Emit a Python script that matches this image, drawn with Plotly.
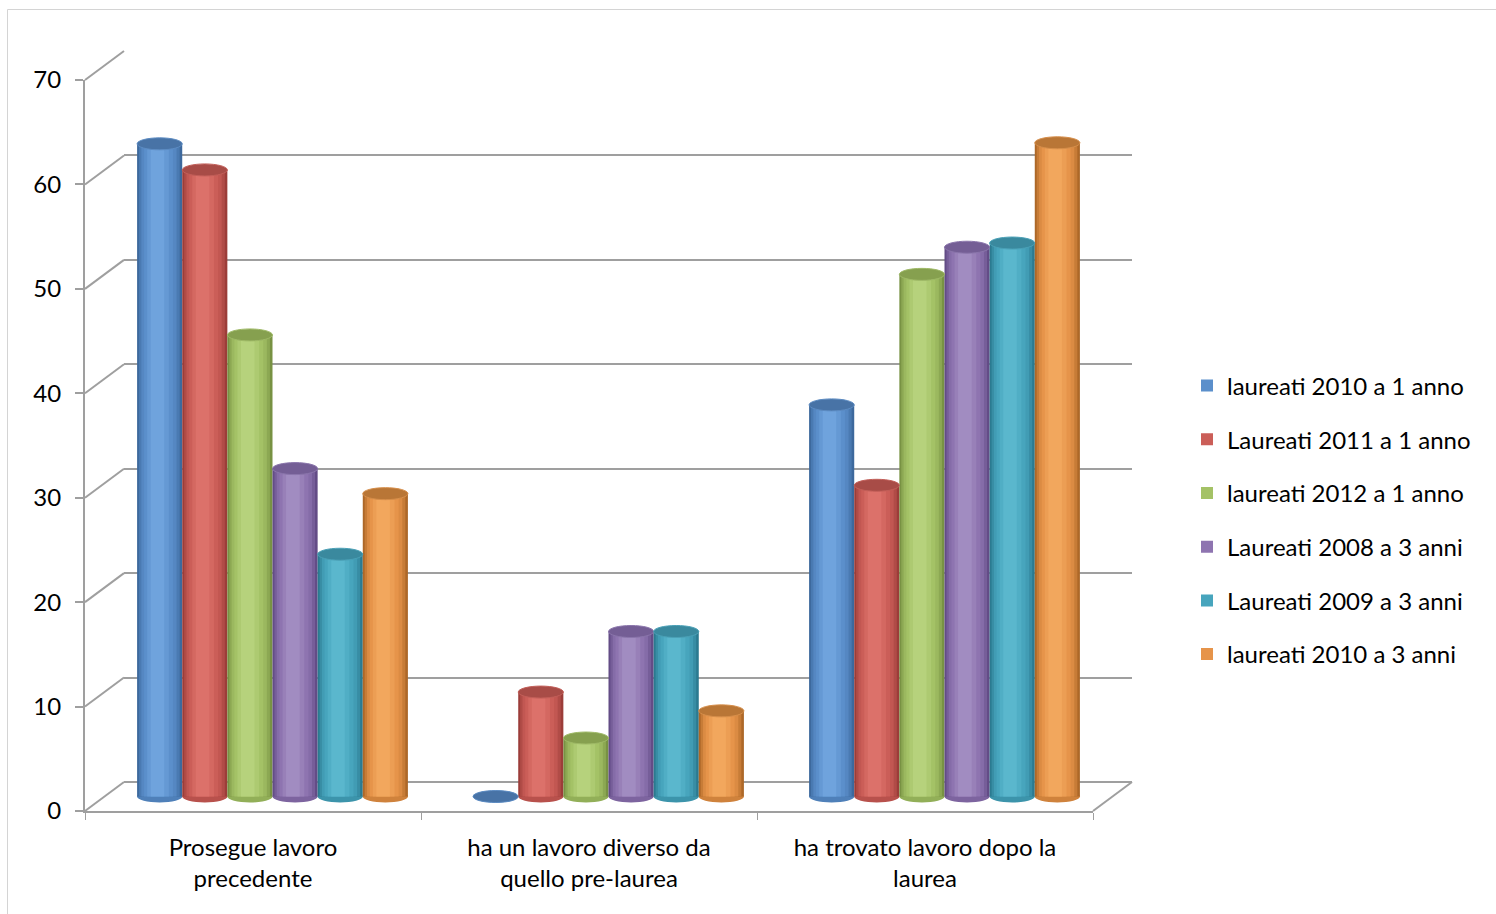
import plotly.graph_objects as go

# ---- data -------------------------------------------------------------
categories = [
    "Prosegue lavoro precedente",
    "ha un lavoro diverso da quello pre-laurea",
    "ha trovato lavoro dopo la laurea",
]
category_labels = [
    "Prosegue lavoro<br>precedente",
    "ha un lavoro diverso da<br>quello pre-laurea",
    "ha trovato lavoro dopo la<br>laurea",
]
series_names = [
    "laureati 2010 a 1 anno",
    "Laureati 2011 a 1 anno",
    "laureati 2012 a 1 anno",
    "Laureati 2008 a 3 anni",
    "Laureati 2009 a 3 anni",
    "laureati 2010 a 3 anni",
]
laureati_2010_1_anno = [62.5, 0.0, 37.5]
laureati_2011_1_anno = [60.0, 10.0, 29.8]
laureati_2012_1_anno = [44.2, 5.6, 50.0]
laureati_2008_3_anni = [31.4, 15.8, 52.6]
laureati_2009_3_anni = [23.2, 15.8, 53.0]
laureati_2010_3_anni = [29.0, 8.2, 62.6]
series_values = [
    laureati_2010_1_anno,
    laureati_2011_1_anno,
    laureati_2012_1_anno,
    laureati_2008_3_anni,
    laureati_2009_3_anni,
    laureati_2010_3_anni,
]
y_ticks = [0, 10, 20, 30, 40, 50, 60, 70]

# ---- style ------------------------------------------------------------
FONT = "Lato"
FONT_SIZE = 24
GRID = "#9f9f9f"
# (edge, body, highlight, cap) for each cylinder series
PALETTE = [
    ("#3d699d", "#5b8fcb", "#6fa3dd", "#4873a6"),
    ("#9c3d39", "#cb5e58", "#dc716a", "#a84c47"),
    ("#789243", "#a4c266", "#b6d27c", "#86a04f"),
    ("#634c86", "#8e74b0", "#a18cc1", "#745e95"),
    ("#2b7a90", "#47a5bd", "#5ab7cd", "#3a899e"),
    ("#ad6828", "#e6944a", "#f2a75d", "#b97636"),
]

W, H = 1496, 914
PX_PER_UNIT = (811 - 80) / 70.0
FRONT = dict(x0=85, x1=1093, y0=811)     # front floor edge / value axis
DEPTH = (39, -29)                         # offset from front to back wall
MID = (DEPTH[0] / 2.0, DEPTH[1] / 2.0)    # cylinders sit half way back
Y_MAX = 70
Y_PAD = 2.0                               # room below zero for the cylinder bottoms
BARGAP = 0.194
CAP_HALF = 6.0 / PX_PER_UNIT              # half height of the elliptic caps


def px(x):
    return x / W


def py(y):
    return 1 - y / H


def plane(dx, dy, pad=0.0):
    xd = [px(FRONT["x0"] + dx), px(FRONT["x1"] + dx)]
    y0 = FRONT["y0"] + dy
    yd = [py(y0 + pad * PX_PER_UNIT), py(y0 - Y_MAX * PX_PER_UNIT)]
    return xd, yd


def mix(c1, c2, t):
    a = [int(c1[i:i + 2], 16) for i in (1, 3, 5)]
    b = [int(c2[i:i + 2], 16) for i in (1, 3, 5)]
    return "#" + "".join("%02x" % round(a[k] + (b[k] - a[k]) * t) for k in range(3))


back_x, back_y = plane(*DEPTH)
front_x, front_y = plane(0, 0)
mid_x, mid_y = plane(*MID, pad=Y_PAD)

fig = go.Figure()

# empty traces so the back wall and the front axes get drawn
fig.add_trace(go.Scatter(x=[], y=[], xaxis="x", yaxis="y",
                         showlegend=False, hoverinfo="skip"))
fig.add_trace(go.Scatter(x=[], y=[], xaxis="x2", yaxis="y2",
                         showlegend=False, hoverinfo="skip"))

n_series = len(series_names)
slot = (1 - BARGAP) / n_series
layer_fracs = [1.0, 0.9, 0.78, 0.64, 0.48, 0.3]
shapes = []

for j, (name, vals) in enumerate(zip(series_names, series_values)):
    edge, body, light, cap = PALETTE[j]
    layer_cols = [edge, mix(edge, body, 0.45), mix(edge, body, 0.8), body,
                  mix(body, light, 0.5), light]
    centre = (j - (n_series - 1) / 2.0) * slot
    for k, (frac, col) in enumerate(zip(layer_fracs, layer_cols)):
        w = slot * frac
        shift = -0.07 * slot * (1 - frac)
        fig.add_trace(go.Bar(
            x=categories, y=vals,
            xaxis="x3", yaxis="y3",
            width=w, offset=centre - w / 2 + shift,
            marker=dict(color=col, line=dict(width=0)),
            name=name, legendgroup=name,
            showlegend=(k == 3),
            hovertemplate="%{x}<br>" + name + ": %{y}<extra></extra>",
        ))
    # elliptic bottom and top of each cylinder
    for i, v in enumerate(vals):
        cx = i + centre
        shapes.append(dict(
            type="circle", xref="x3", yref="y3", layer="below",
            x0=cx - slot / 2, x1=cx + slot / 2, y0=-CAP_HALF, y1=CAP_HALF,
            fillcolor=mix(edge, body, 0.6), line=dict(width=0),
        ))
        shapes.append(dict(
            type="circle", xref="x3", yref="y3", layer="above",
            x0=cx - slot / 2, x1=cx + slot / 2, y0=v - CAP_HALF, y1=v + CAP_HALF,
            fillcolor=cap, line=dict(width=1, color=mix(cap, light, 0.5)),
        ))

# slanted connectors between the value axis and the back wall
for t in y_ticks:
    yf = FRONT["y0"] - t * PX_PER_UNIT
    shapes.append(dict(
        type="line", xref="paper", yref="paper", layer="below",
        x0=px(FRONT["x0"]), y0=py(yf),
        x1=px(FRONT["x0"] + DEPTH[0]), y1=py(yf + DEPTH[1]),
        line=dict(color=GRID, width=2),
    ))
shapes.append(dict(
    type="line", xref="paper", yref="paper", layer="below",
    x0=px(FRONT["x1"]), y0=py(FRONT["y0"]),
    x1=px(FRONT["x1"] + DEPTH[0]), y1=py(FRONT["y0"] + DEPTH[1]),
    line=dict(color=GRID, width=2),
))
# chart area border
shapes.append(dict(
    type="rect", xref="paper", yref="paper", layer="below",
    x0=px(7.5), y0=-0.01, x1=1.01, y1=py(9.5),
    line=dict(color="#d4d4d4", width=1), fillcolor="rgba(0,0,0,0)",
))

hidden = dict(showgrid=False, zeroline=False, showline=False,
              showticklabels=False, ticks="", automargin=False)

fig.update_layout(
    width=W, height=H, autosize=False,
    margin=dict(l=0, r=0, t=0, b=0, autoexpand=False),
    paper_bgcolor="white", plot_bgcolor="rgba(0,0,0,0)",
    font=dict(family=FONT, size=FONT_SIZE, color="#000000"),
    barmode="overlay",
    shapes=shapes,
    # back wall with its horizontal gridlines
    xaxis=dict(domain=back_x, range=[0, 1], anchor="y", **hidden),
    yaxis=dict(domain=back_y, range=[0, Y_MAX], anchor="x", automargin=False,
               showgrid=True, gridcolor=GRID, gridwidth=2,
               tickmode="array", tickvals=y_ticks,
               zeroline=True, zerolinecolor=GRID, zerolinewidth=2,
               showline=False, showticklabels=False, ticks=""),
    # front value axis and category axis
    xaxis2=dict(domain=front_x, range=[-0.5, len(categories) - 0.5], anchor="y2",
                automargin=False, showgrid=False, zeroline=False,
                showline=True, linecolor=GRID, linewidth=2,
                tickmode="array", tickvals=list(range(len(categories))),
                ticktext=category_labels, ticks="", ticklabelstandoff=14,
                tickfont=dict(size=FONT_SIZE),
                minor=dict(tickmode="array",
                           tickvals=[i - 0.5 for i in range(len(categories) + 1)],
                           ticks="outside", ticklen=7, tickwidth=1,
                           tickcolor=GRID, showgrid=False)),
    yaxis2=dict(domain=front_y, range=[0, Y_MAX], anchor="x2",
                automargin=False, showgrid=False, zeroline=False,
                showline=True, linecolor=GRID, linewidth=2,
                tickmode="array", tickvals=y_ticks,
                ticks="outside", ticklen=8, tickwidth=2, tickcolor=GRID,
                ticklabelstandoff=9, tickfont=dict(size=FONT_SIZE)),
    # cylinders, half way between the front axis and the back wall
    xaxis3=dict(domain=mid_x, range=[-0.5, len(categories) - 0.5], anchor="y3",
                type="category", categoryorder="array", categoryarray=categories,
                **hidden),
    yaxis3=dict(domain=mid_y, range=[-Y_PAD, Y_MAX], anchor="x3", **hidden),
    legend=dict(
        x=px(1187), y=py(520), xanchor="left", yanchor="middle",
        traceorder="grouped", tracegroupgap=19.5,
        font=dict(size=FONT_SIZE), bgcolor="rgba(0,0,0,0)",
    ),
)

fig.write_html("out.html")
